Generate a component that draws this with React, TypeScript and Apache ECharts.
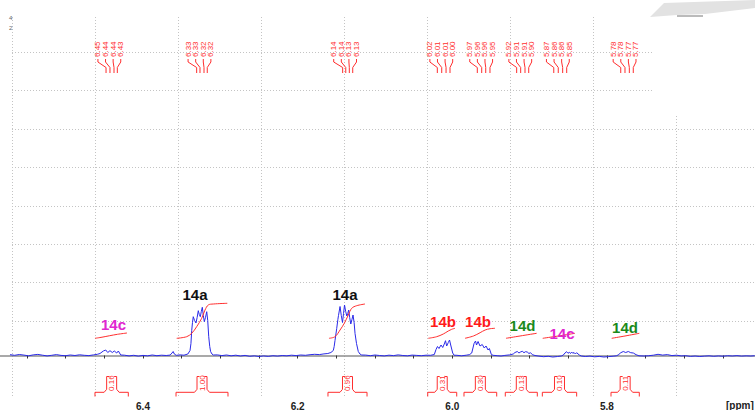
import React, { useEffect, useRef } from "react";
import * as echarts from "echarts";

const FONT = '"Liberation Sans", Arial, sans-serif';

// 1H NMR spectrum (chemical shift, ppm) and intensity (arbitrary units)
const spectrumPpm = [
  6.572, 6.566, 6.56, 6.554, 6.548, 6.542, 6.536, 6.53, 6.524, 6.518, 6.512, 6.506, 6.5, 6.494, 6.488, 6.482, 6.476, 6.47, 6.464, 6.459,
  6.4556, 6.4513, 6.4482, 6.4456, 6.4427, 6.4397, 6.4371, 6.434, 6.4319, 6.4288,
  6.424, 6.418, 6.412, 6.406, 6.4, 6.394, 6.388, 6.382, 6.376, 6.37, 6.365, 6.3625, 6.361, 6.3595, 6.357, 6.352, 6.347,
  6.342, 6.3392, 6.338, 6.337, 6.336, 6.335, 6.3333, 6.3315, 6.33, 6.3285, 6.3272, 6.3259, 6.3246, 6.3233, 6.322, 6.3207, 6.3192, 6.3176, 6.3163, 6.315, 6.3137, 6.3125, 6.3108, 6.3091,
  6.304, 6.298, 6.292, 6.286, 6.28, 6.274, 6.268, 6.262, 6.256, 6.25, 6.244, 6.238, 6.232, 6.226, 6.22, 6.214, 6.208, 6.202, 6.196, 6.19, 6.184, 6.178, 6.172, 6.166, 6.161, 6.157,
  6.1539, 6.1528, 6.1517, 6.1495, 6.148, 6.1472, 6.1452, 6.1436, 6.142, 6.1407, 6.1394, 6.1379, 6.1364, 6.1352, 6.134, 6.1327, 6.1313, 6.1298, 6.1284, 6.127, 6.1258, 6.1239, 6.1216, 6.1195, 6.1172,
  6.112, 6.106, 6.1, 6.094, 6.088, 6.082, 6.076, 6.07, 6.064, 6.058, 6.052, 6.046, 6.04, 6.034, 6.028,
  6.0233, 6.0211, 6.0192, 6.0172, 6.0146, 6.0124, 6.0104, 6.0088, 6.0073, 6.0052, 6.0036, 6.0021, 5.9995, 5.9978,
  5.994, 5.988, 5.982, 5.978,
  5.9749, 5.9719, 5.97, 5.9687, 5.9667, 5.9642, 5.9613, 5.9587, 5.9564, 5.9538, 5.9521, 5.9495, 5.9473,
  5.942, 5.937, 5.932, 5.926,
  5.9212, 5.919, 5.916, 5.9138, 5.9119, 5.9095, 5.9073, 5.9054, 5.9031, 5.9009, 5.8989, 5.8964, 5.8931,
  5.888, 5.882, 5.876, 5.87, 5.864, 5.859,
  5.8564, 5.8543, 5.8522, 5.8504, 5.8487, 5.8472, 5.8457, 5.8442, 5.8426, 5.8409, 5.8393, 5.8358, 5.8332,
  5.828, 5.822, 5.816, 5.81, 5.804, 5.798, 5.792, 5.788,
  5.7856, 5.7821, 5.7789, 5.7758, 5.7724, 5.7693, 5.7659, 5.7624, 5.7586,
  5.752, 5.746, 5.74, 5.734, 5.728, 5.722, 5.716, 5.71, 5.704, 5.698, 5.692, 5.686, 5.68, 5.674, 5.668, 5.662, 5.656, 5.65, 5.644, 5.638, 5.632, 5.626, 5.62, 5.614, 5.609,
];
const spectrumInt = [
  0.8, 0.2, 1.0, 0.4, -0.3, 0.6, 1.1, 0.3, -0.4, 0.2, 0.9, 0.1, -0.2, 0.5, 0.0, 0.7, 0.2, -0.1, 0.6, 1.2,
  2.0, 4.5, 5.5, 3.0, 4.8, 3.0, 4.5, 2.5, 4.5, 0.5,
  0.3, -0.4, 0.2, -0.6, 0.1, -0.3, 0.5, -0.2, 0.3, 0.0, 0.4, 2.5, 4.0, 1.5, 0.2, 0.6, 0.3,
  1.5, 5, 12, 25, 33, 38.8, 35, 32.5, 38, 44.8, 41, 38.8, 44, 48.2, 40, 33.8, 38, 43.8, 35, 18.8, 9, 3.8, 1.5, 0.5,
  0.6, -0.1, 0.5, -0.3, 0.3, -0.5, 0.1, -0.8, -0.3, -1.0, -0.4, -0.9, -0.2, -0.6, 0.0, -0.3, 0.3, -0.1, 0.5, 0.2, 0.8, 1.2, 0.9, 1.6, 2.0, 3.0,
  5, 9, 15, 27, 36, 40, 49, 40, 33, 42, 50.5, 44, 39.5, 42, 45.5, 38, 31.5, 36, 40.5, 33, 22, 12, 4, 1.5, 0.5,
  0.4, -0.2, 0.5, 0.0, -0.4, 0.3, -0.1, 0.6, 0.0, -0.3, 0.4, 0.1, -0.2, 0.3, 0.2,
  1, 6, 9, 7, 10.5, 8, 11.5, 14.8, 9.5, 13, 15.5, 10.5, 2.5, 0.3,
  0.2, -0.3, 0.3, 0.8,
  2.5, 12, 14.5, 10.5, 14, 9.5, 11, 7.5, 9.5, 5.5, 7, 1, 0.2,
  -0.2, -0.5, 0.1, 0.6,
  1.5, 3.0, 4.0, 2.5, 3.5, 4.2, 2.8, 3.8, 3.5, 2.0, 2.8, 0.8, 0.0,
  -0.6, -1.2, -0.8, -1.5, -1.0, -0.5,
  0.5, 2.5, 3.8, 2.2, 3.2, 2.0, 3.5, 2.2, 3.0, 1.5, 2.8, 0.5, -0.5,
  -1.0, -0.6, -1.3, -0.9, -1.5, -1.1, -0.7, -0.3,
  0.5, 2.8, 4.0, 3.0, 4.0, 2.8, 2.5, 0.8, -0.3,
  -0.5, -0.2, 0.3, 1.2, 0.4, 0.9, -0.1, 0.3, -0.4, -0.2, -0.9, -0.5, -1.0, -0.6, -0.3, -0.8, -0.4, -0.7, -0.2, -0.5, -0.1, -0.6, -0.3, -0.5, -0.2,
];

// Integral curves (ppm, integral level)
const integral1 = [[6.4621, 17.2], [6.453, 18.3], [6.443, 19.8], [6.433, 21.2], [6.4207, 22.5]];
const integral2 = [[6.3564, 17.2], [6.3435, 18.8], [6.337, 22.2], [6.3306, 28.8], [6.3241, 37.2], [6.3198, 45.5], [6.3156, 50.5], [6.3091, 51.5], [6.291, 52.2]];
const integral3 = [[6.1595, 17.2], [6.1517, 18.8], [6.1452, 25.5], [6.1397, 32.2], [6.1345, 40.5], [6.1301, 47.2], [6.1237, 49.8], [6.1129, 51.5]];
const integral4 = [[6.0311, 17.2], [6.0202, 18.8], [6.0117, 21.5], [6.0052, 24.5], [6.0008, 26.2], [5.9965, 27.2]];
const integral5 = [[5.9836, 17.2], [5.9727, 19.5], [5.9641, 22.8], [5.9576, 25.5], [5.9511, 26.8], [5.9448, 27.2]];
const integral6 = [[5.9306, 17.2], [5.9125, 19.5], [5.8909, 22.2]];
const integral7 = [[5.8831, 17.2], [5.8629, 19.5], [5.8414, 22.2]];
const integral8 = [[5.7939, 17.2], [5.7767, 19.5], [5.7582, 22.2]];
const integralCurves = [integral1, integral2, integral3, integral4, integral5, integral6, integral7, integral8];

// Integration regions and values
const integStart = [6.4621, 6.3573, 6.1608, 6.0318, 5.9849, 5.9315, 5.8836, 5.7948];
const integEnd = [6.419, 6.2901, 6.1103, 5.9943, 5.9426, 5.8901, 5.8392, 5.7582];
const integValues = [0.16, 1.0, 0.96, 0.31, 0.3, 0.13, 0.1, 0.11];

// Picked peaks (ppm) and their multiplet group
const peakPpm = [
  6.4478, 6.4427, 6.4375, 6.4332,
  6.3306, 6.3263, 6.3211, 6.3169,
  6.1418, 6.1378, 6.1332, 6.1288,
  6.0194, 6.0137, 6.0081, 6.003,
  5.9677, 5.962, 5.9568, 5.9513,
  5.9168, 5.9116, 5.906, 5.9012,
  5.8688, 5.863, 5.8573, 5.8521,
  5.7822, 5.7767, 5.7711, 5.766,
];
const peakGroup = [0, 0, 0, 0, 1, 1, 1, 1, 2, 2, 2, 2, 3, 3, 3, 3, 4, 4, 4, 4, 5, 5, 5, 5, 6, 6, 6, 6, 7, 7, 7, 7];

// Compound assignment labels
const compoundNames = ["14c", "14a", "14a", "14b", "14b", "14d", "14c", "14d"];
const compoundPpm = [6.4381, 6.3328, 6.1388, 6.0121, 5.9668, 5.9092, 5.8582, 5.7767];
const compoundLevel = [31.5, 61.5, 61.5, 34, 34, 30, 22, 28];
const compoundColors: Record<string, string> = { "14a": "#111111", "14b": "#ff1a1a", "14c": "#e026d0", "14d": "#1b8a1b" };

const GRID_DOT = { color: "#c4c4c4", type: [1, 2] as any, width: 1 };
const RED = "#ff2e2e";

function buildOption(): any {
  const hiddenAxis = (gridIndex: number, min: number, max: number, split: boolean) => ({
    gridIndex,
    type: "value",
    min,
    max,
    interval: 1,
    axisLine: { show: false },
    axisTick: { show: false },
    axisLabel: { show: false },
    splitLine: { show: split, lineStyle: GRID_DOT },
  });

  const series: any[] = [];
  series.push({
    type: "line",
    xAxisIndex: 0,
    yAxisIndex: 0,
    data: spectrumPpm.map((p, i) => [p, spectrumInt[i]]),
    symbol: "none",
    lineStyle: { color: "#2a2ae8", width: 1 },
    z: 3,
  });
  integralCurves.forEach((c) => {
    series.push({
      type: "line",
      xAxisIndex: 0,
      yAxisIndex: 0,
      data: c,
      symbol: "none",
      smooth: 0.35,
      lineStyle: { color: RED, width: 1 },
      z: 4,
    });
  });
  series.push({
    type: "custom",
    xAxisIndex: 0,
    yAxisIndex: 0,
    data: peakPpm.map((p) => [p, 0]),
    z: 5,
    renderItem: (params: any, api: any) => {
      const i = params.dataIndex;
      const g = peakGroup[i];
      const members = peakPpm.map((_, j) => j).filter((j) => peakGroup[j] === g);
      const k = members.indexOf(i);
      const px = api.coord([peakPpm[i], 0])[0];
      const cx = members.reduce((s, j) => s + api.coord([peakPpm[j], 0])[0], 0) / members.length;
      const lx = cx - 2.5 + (k - (members.length - 1) / 2) * 7.6;
      return {
        type: "group",
        children: [
          {
            type: "text",
            x: lx,
            y: 57,
            rotation: Math.PI / 2,
            style: { text: peakPpm[i].toFixed(2), fill: RED, fontSize: 8, fontFamily: FONT, textAlign: "left", textVerticalAlign: "middle" },
          },
          {
            type: "polyline",
            shape: { points: [[lx, 59], [lx, 62], [px, 67.5], [px, 73]] },
            style: { stroke: RED, lineWidth: 1, fill: "none" },
          },
        ],
      };
    },
  });
  series.push({
    type: "custom",
    xAxisIndex: 0,
    yAxisIndex: 0,
    data: integStart.map((s, i) => [s, integEnd[i], integValues[i]]),
    z: 5,
    renderItem: (params: any, api: any) => {
      const i = params.dataIndex;
      const a = api.coord([integStart[i], 0])[0];
      const b = api.coord([integEnd[i], 0])[0];
      const xl = Math.min(a, b);
      const xr = Math.max(a, b);
      const c = (xl + xr) / 2;
      const ya = 396.5, yb = 392.3, yk = 389.3, yt = 376.5;
      const st = { stroke: RED, lineWidth: 1, fill: "none" };
      return {
        type: "group",
        children: [
          { type: "polyline", shape: { points: [[xl, ya], [xl, yb], [c - 7.5, yb], [c - 5, yk], [c - 5, yt], [c - 2.5, yt]] }, style: st },
          { type: "polyline", shape: { points: [[xr, ya], [xr, yb], [c + 7.5, yb], [c + 5, yk], [c + 5, yt], [c + 2.5, yt]] }, style: st },
          {
            type: "text",
            x: c,
            y: 383.2,
            rotation: Math.PI / 2,
            style: { text: integValues[i].toFixed(2), fill: RED, fontSize: 8, fontFamily: FONT, textAlign: "center", textVerticalAlign: "middle" },
          },
        ],
      };
    },
  });
  series.push({
    type: "custom",
    xAxisIndex: 0,
    yAxisIndex: 0,
    data: compoundPpm.map((p, i) => [p, compoundLevel[i]]),
    z: 6,
    renderItem: (params: any, api: any) => {
      const i = params.dataIndex;
      const pt = api.coord([compoundPpm[i], compoundLevel[i]]);
      return {
        type: "text",
        x: pt[0],
        y: pt[1],
        style: {
          text: compoundNames[i],
          fill: compoundColors[compoundNames[i]],
          fontSize: 15,
          fontWeight: "bold",
          fontFamily: FONT,
          textAlign: "center",
          textVerticalAlign: "middle",
        },
      };
    },
  });

  return {
    animation: false,
    backgroundColor: "#ffffff",
    grid: [
      { left: -11.66, right: -6.64, top: 0, bottom: 14, containLabel: false, outerBoundsMode: "none" },
      { left: 12, width: 664, top: 17, bottom: 14, outerBoundsMode: "none" },
      { left: 12, width: 641, top: 52.3, height: 38.4, outerBoundsMode: "none" },
      { left: 12, right: 0, top: 129, height: 192, outerBoundsMode: "none" },
    ],
    xAxis: [
      {
        gridIndex: 0,
        type: "value",
        min: 5.6,
        max: 6.6,
        interval: 0.05,
        inverse: true,
        axisLine: { show: true, lineStyle: { color: "#8c8c8c", width: 1.5 } },
        axisTick: { show: true, length: 3, lineStyle: { color: "#333", width: 1 } },
        axisLabel: {
          margin: 5,
          color: "#222",
          fontSize: 10,
          fontWeight: "bold",
          fontFamily: FONT,
          showMinLabel: false,
          showMaxLabel: false,
          formatter: (v: number) => {
            const r = Math.round(v * 100);
            return r % 20 === 0 ? (r / 100).toFixed(1) : "";
          },
        },
        splitLine: { show: false },
      },
      hiddenAxis(1, 0, 8, true),
      hiddenAxis(2, 0, 1, false),
      hiddenAxis(3, 0, 1, false),
    ],
    yAxis: [
      { gridIndex: 0, type: "value", min: -40.5, max: 355.5, show: false },
      hiddenAxis(1, 0, 1, false),
      hiddenAxis(2, 0, 1, true),
      hiddenAxis(3, 0, 5, true),
    ],
    series,
    graphic: [
      { type: "rect", z: 50, shape: { x: 0, y: 388, width: 9.5, height: 12 }, style: { fill: "#ffffff" } },
      { type: "rect", z: 50, shape: { x: 654, y: 0, width: 101, height: 114.5 }, style: { fill: "#ffffff" } },
      {
        type: "polygon",
        z: 51,
        shape: { points: [[650, 17], [664, 3], [755, 0], [755, 8], [705, 14], [677, 15]] },
        style: { fill: "#e2e2e2" },
      },
      { type: "line", z: 52, shape: { x1: 677, y1: 16, x2: 703, y2: 16 }, style: { stroke: "#777", lineWidth: 1 } },
      { type: "text", z: 52, x: 9, y: 18, style: { text: "4", fill: "#666", fontSize: 6, fontFamily: FONT, textVerticalAlign: "middle" } },
      { type: "text", z: 52, x: 9, y: 28, style: { text: "2", fill: "#666", fontSize: 6, fontFamily: FONT, textVerticalAlign: "middle" } },
      { type: "text", z: 52, x: 726, y: 405, style: { text: "[ppm]", fill: "#222", fontSize: 10, fontWeight: "bold", fontFamily: FONT, textVerticalAlign: "middle" } },
    ],
  };
}

export default function App() {
  const ref = useRef<HTMLDivElement>(null);
  useEffect(() => {
    if (!ref.current) return;
    const chart = echarts.init(ref.current, null, { renderer: "svg" });
    chart.setOption(buildOption());
    return () => chart.dispose();
  }, []);
  return <div ref={ref} style={{ position: "fixed", left: 0, top: 0, width: 755, height: 410 }} />;
}
